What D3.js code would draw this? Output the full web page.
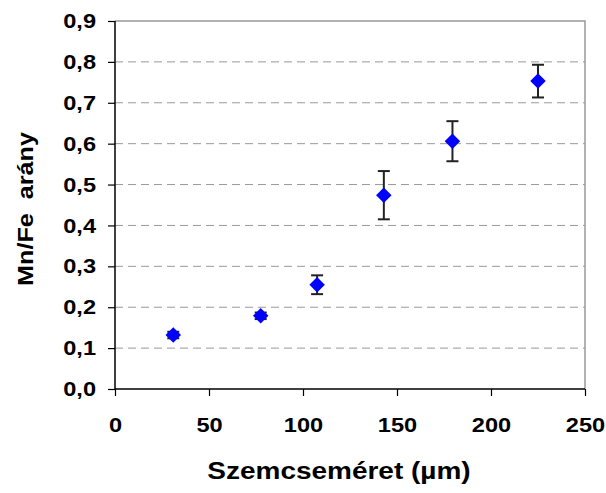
<!DOCTYPE html>
<html>
<head>
<meta charset="utf-8">
<script src="https://cdn.jsdelivr.net/npm/d3@7"></script>
<style>
  body { margin: 0; background: #fff; }
  text { font-family: Arial, "Liberation Sans", sans-serif; font-weight: bold; }
</style>
</head>
<body>
<svg id="chart" width="606" height="493"></svg>
<script>
// grain size (µm) vs Mn/Fe ratio
const grainSize = [31, 77.5, 107.5, 143, 179.5, 225];
const ratio = [0.132, 0.179, 0.255, 0.474, 0.606, 0.753];
const ratioErr = [0.008, 0.008, 0.023, 0.059, 0.049, 0.040];
const xTicks = [0, 50, 100, 150, 200, 250];
const yTicks = [0, 0.1, 0.2, 0.3, 0.4, 0.5, 0.6, 0.7, 0.8, 0.9];

const width = 606, height = 493;
const margin = { top: 21, right: 21, bottom: 104, left: 115 };

const svg = d3.select('#chart');

const x = d3.scaleLinear().domain([0, 250]).range([margin.left, width - margin.right]);
const y = d3.scaleLinear().domain([0, 0.9]).range([height - margin.bottom, margin.top]);

const fmt = d => d3.format('.1f')(d).replace('.', ',');

// the original text is drawn a bit wider than plain Arial bold
function widen(sel, k) {
    sel.each(function() {
        const len = this.getComputedTextLength();
        d3.select(this).attr('textLength', len * k).attr('lengthAdjust', 'spacingAndGlyphs');
    });
}

// gridlines
svg.append('g')
    .selectAll('line')
    .data(yTicks.filter(d => d > 0 && d < 0.9))
    .enter()
    .append('line')
    .attr('x1', x(0)).attr('x2', x(250))
    .attr('y1', d => y(d)).attr('y2', d => y(d))
    .attr('stroke', '#999')
    .attr('stroke-width', 1)
    .attr('stroke-dasharray', '8,5');

// top and right frame
svg.append('path')
    .attr('d', `M${x(0)},${y(0.9)}H${x(250)}V${y(0)}`)
    .attr('fill', 'none')
    .attr('stroke', '#999')
    .attr('stroke-width', 1.5);

// axes
const xAxis = svg.append('g')
    .attr('transform', `translate(0,${y(0)})`)
    .call(d3.axisBottom(x).tickValues(xTicks).tickSize(7).tickPadding(21).tickFormat(d3.format('d')));
const yAxis = svg.append('g')
    .attr('transform', `translate(${x(0)},0)`)
    .call(d3.axisLeft(y).tickValues(yTicks).tickSize(7).tickPadding(12).tickFormat(fmt));

[xAxis, yAxis].forEach(g => {
    g.select('.domain').attr('stroke', '#000').attr('stroke-width', 1.5);
    g.selectAll('.tick line').attr('stroke', '#000').attr('stroke-width', 1.2);
    g.selectAll('.tick text')
        .attr('fill', '#000')
        .style('font-size', '20.5px')
        .style('font-family', 'Arial, "Liberation Sans", sans-serif')
        .style('font-weight', 'bold')
        .call(widen, 1.15);
});
yAxis.select('.domain').attr('d', `M0,${y(0.9)}V${y(0)}`);
xAxis.select('.domain').attr('d', `M${x(0)},0H${x(250)}`);

const points = grainSize.map((g, i) => ({ g, r: ratio[i], e: ratioErr[i] }));

// error bars
const eb = svg.append('g').attr('stroke', '#222').attr('stroke-width', 2);
points.forEach(p => {
    eb.append('line')
        .attr('x1', x(p.g)).attr('x2', x(p.g))
        .attr('y1', y(p.r - p.e)).attr('y2', y(p.r + p.e));
    [p.r - p.e, p.r + p.e].forEach(v => {
        eb.append('line')
            .attr('x1', x(p.g) - 6).attr('x2', x(p.g) + 6)
            .attr('y1', y(v)).attr('y2', y(v));
    });
});

// markers
svg.append('g')
    .selectAll('path')
    .data(points)
    .enter()
    .append('path')
    .attr('d', d3.symbol(d3.symbolSquare, 120))
    .attr('transform', d => `translate(${x(d.g)},${y(d.r)}) rotate(45)`)
    .attr('fill', '#0000ff');

// axis titles
svg.append('text')
    .attr('x', 339).attr('y', 479)
    .attr('text-anchor', 'middle')
    .style('font-size', '23.5px')
    .text('Szemcseméret (µm)')
    .call(widen, 1.19);

svg.append('text')
    .attr('transform', `translate(33,209) rotate(-90)`)
    .attr('text-anchor', 'middle')
    .style('font-size', '21.5px')
    .style('white-space', 'pre')
    .text('Mn/Fe  arány')
    .call(widen, 1.17);
</script>
</body>
</html>
